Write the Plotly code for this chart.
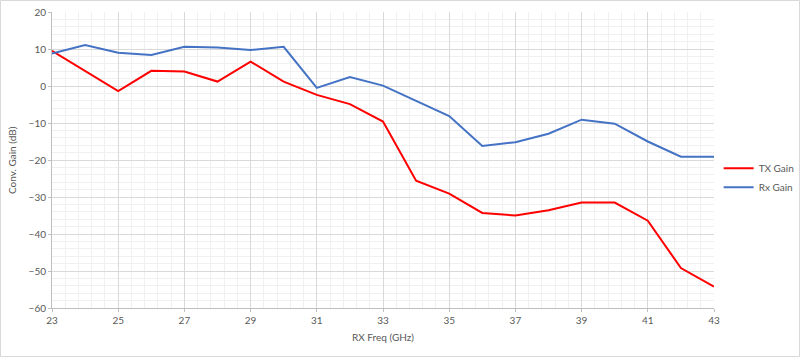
import plotly.graph_objects as go

freq = [23, 24, 25, 26, 27, 28, 29, 30, 31, 32, 33, 34, 35, 36, 37, 38, 39, 40, 41, 42, 43]
tx_gain = [9.5, 4.0, -1.4, 4.1, 3.9, 1.2, 6.6, 1.2, -2.4, -4.9, -9.6, -25.6, -29.1, -34.3, -35.0, -33.6, -31.5, -31.5, -36.4, -49.2, -54.2]
rx_gain = [8.8, 11.1, 9.0, 8.4, 10.6, 10.4, 9.7, 10.6, -0.5, 2.4, 0.1, -3.9, -8.1, -16.2, -15.2, -12.9, -9.1, -10.2, -15.0, -19.1, -19.1]

TXT = "#595959"
FONT = "Lato, 'Liberation Sans', sans-serif"
PW, PH = 662, 296

fig = go.Figure()
fig.add_trace(go.Scatter(x=freq, y=tx_gain, mode="lines", name="TX Gain",
                         line=dict(color="#ff0000", width=2)))
fig.add_trace(go.Scatter(x=freq, y=rx_gain, mode="lines", name="Rx Gain",
                         line=dict(color="#4472c4", width=2)))

fig.update_layout(
    width=800, height=357,
    margin=dict(l=52, r=86, t=12, b=49, autoexpand=False),
    paper_bgcolor="white", plot_bgcolor="white",
    font=dict(family=FONT, size=10, color=TXT),
    showlegend=True,
    legend=dict(x=1.007, xanchor="left", y=0.44, yanchor="middle",
                font=dict(size=10, color=TXT), tracegroupgap=0,
                bgcolor="rgba(0,0,0,0)"),
    shapes=[dict(type="rect", xref="paper", yref="paper",
                 x0=-51.5/PW, x1=1 + 85.5/PW, y0=-48.5/PH, y1=1 + 11.5/PH,
                 line=dict(color="#d9d9d9", width=1))],
    annotations=[
        dict(text="RX Freq (GHz)", xref="paper", yref="paper", x=0.5, y=-29/PH,
             xanchor="center", yanchor="middle", showarrow=False,
             font=dict(size=10, color=TXT)),
        dict(text="Conv. Gain (dB)", xref="paper", yref="paper", x=-40/PW, y=0.5,
             xanchor="center", yanchor="middle", showarrow=False, textangle=-90,
             font=dict(size=10, color=TXT)),
    ],
)

fig.update_xaxes(
    range=[23, 43], tick0=23, dtick=2, showgrid=True, gridcolor="#d9d9d9", gridwidth=1,
    minor=dict(dtick=0.4, tick0=23, showgrid=True, gridcolor="#f0f0f0", gridwidth=1),
    showline=True, linecolor="#bfbfbf", linewidth=1, mirror=False,
    ticks="outside", ticklen=3, tickcolor="#bfbfbf",
    zeroline=False, automargin=False,
    tickfont=dict(size=10, color=TXT),
)
fig.update_yaxes(
    range=[-60, 20], tick0=-60, dtick=10, showgrid=True, gridcolor="#d9d9d9", gridwidth=1,
    minor=dict(dtick=2, tick0=-60, showgrid=True, gridcolor="#f0f0f0", gridwidth=1),
    showline=True, linecolor="#bfbfbf", linewidth=1,
    ticks="outside", ticklen=3, tickcolor="#bfbfbf",
    zeroline=False, automargin=False,
    tickfont=dict(size=10, color=TXT),
)

fig.write_html("out.html", config={"displayModeBar": False},
               post_script="document.body.style.margin='0';")
